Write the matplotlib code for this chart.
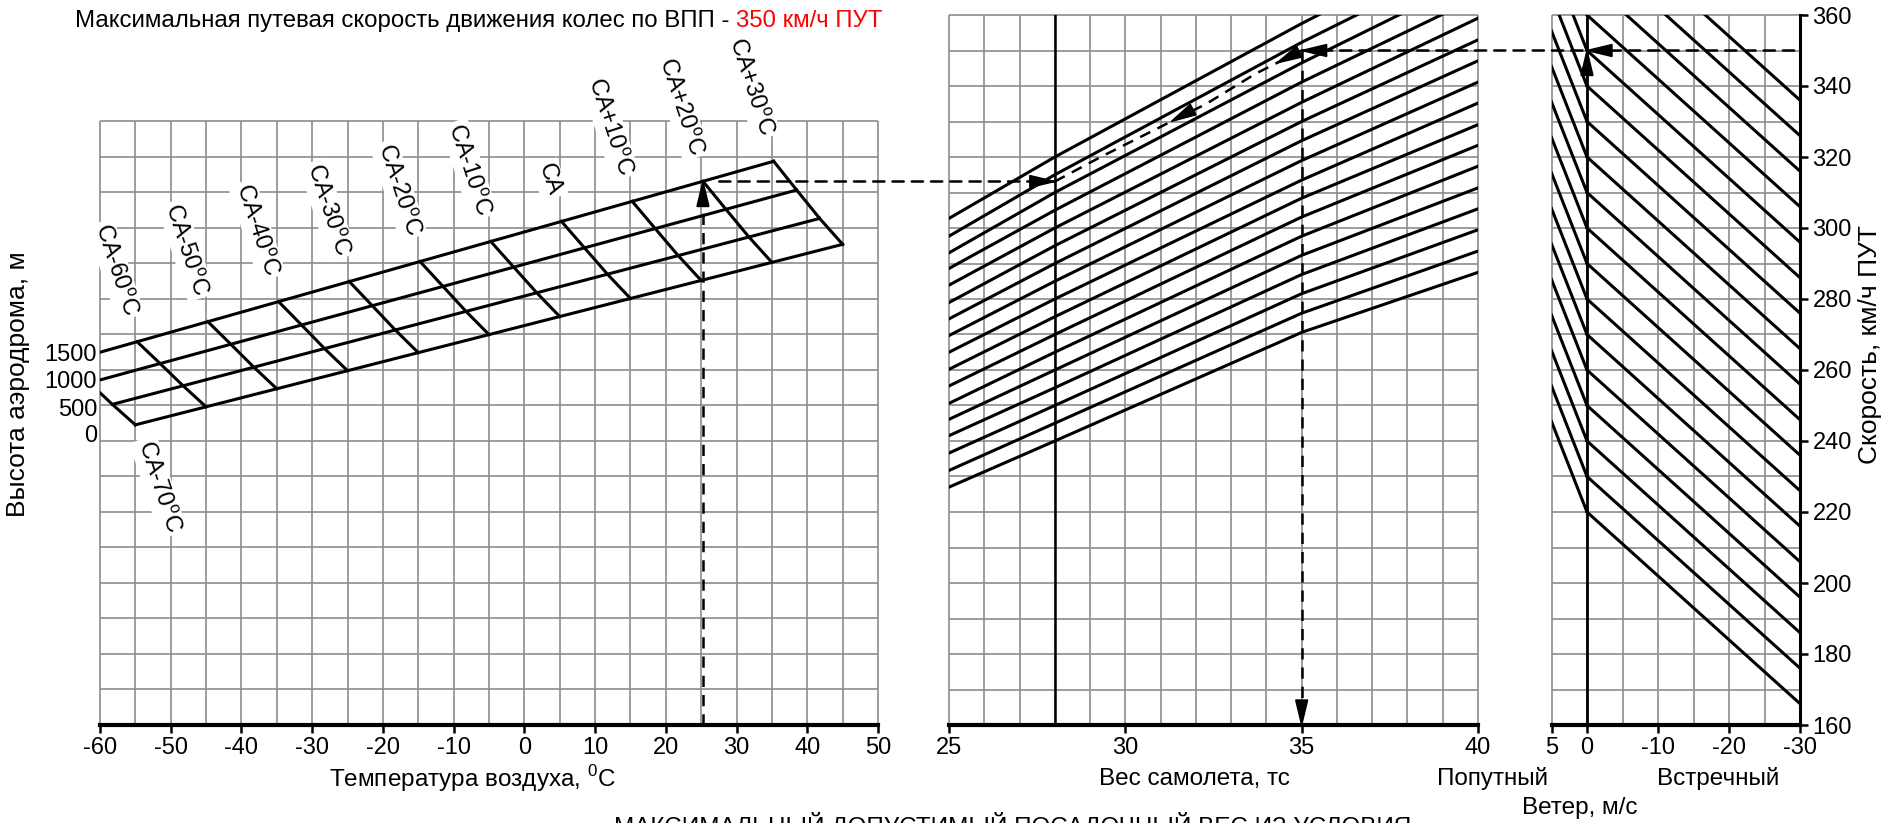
import matplotlib.pyplot as plt
import numpy as np
from matplotlib.patches import ConnectionPatch, Polygon
from matplotlib.transforms import IdentityTransform

plt.rcParams['font.family'] = ['Liberation Sans', 'DejaVu Sans']
plt.rcParams['mathtext.fontset'] = 'custom'
plt.rcParams['mathtext.rm'] = 'Liberation Sans'
plt.rcParams['axes.unicode_minus'] = False
plt.rcParams['font.size'] = 17

# --- altitude / temperature block (left)
altitudes = ['0', '500', '1000', '1500']
isa_temp = [15.0, 11.75, 8.5, 5.25]            # СА temperature for each altitude
alt_level_left = [242.0, 249.4, 257.2, 265.0]  # line level at -60 °C
alt_level_right = [295.4, 302.7, 310.7, 318.8] # line level at the СА+30 edge
deviations = [-70, -60, -50, -40, -30, -20, -10, 0, 10, 20, 30]

# --- landing weight guide curves, level at 25, 28, 35, 40 tc
mass_nodes = [25, 28, 35, 40]
mass_curves = [
    [227.0, 240, 270.6, 287.5],
    [231.7, 245, 276.0, 293.5],
    [236.6, 250, 281.5, 299.5],
    [241.5, 255, 286.9, 305.4],
    [246.1, 260, 292.3, 311.3],
    [250.6, 265, 297.7, 317.4],
    [255.5, 270, 303.1, 323.3],
    [260.2, 275, 308.4, 329.1],
    [265.0, 280, 313.5, 335.2],
    [269.7, 285, 319.0, 341.1],
    [274.4, 290, 324.6, 347.1],
    [279.0, 295, 330.0, 353.0],
    [283.9, 300, 335.4, 359.1],
    [288.6, 305, 341.1, 365.0],
    [293.0, 310, 346.5, 371.0],
    [297.7, 315, 352.3, 377.0],
    [302.7, 320, 357.6, 383.0],
]
ref_mass = 28

# --- wind correction (right)
head_start = [220, 230, 240, 250, 260, 270, 280, 290, 300, 310, 320, 330, 340, 350, 360, 370, 380, 390]
head_end = [166, 176, 186, 196, 206, 216, 226, 236, 246, 256, 266, 276, 286, 296, 306, 316, 326, 336]
tail_end = [220, 230, 240, 250, 260, 270, 280, 290, 300, 310, 320, 330, 340, 350, 360]
tail_start = [245.5, 255.5, 265.5, 275.5, 285.5, 295.5, 305.5, 315.5, 325.5, 335.5, 345.5, 355.5, 365.5, 375.5, 385.5]

# --- worked example
ex_temp = 25.25
ex_level = 313.1
ex_path_mass = [28, 29.3, 30.8, 32.3, 33.7, 35]
ex_path_level = [313.1, 320, 327.5, 335, 343.5, 350]
ex_mass = 35
ex_speed = 350
ex_wind = 0

W, H = 1885, 823
GRID = '#8c8c8c'
DASH = (0, (4.5, 3.2))

fig = plt.figure(figsize=(W / 100, H / 100), dpi=100)


def px_axes(x0, x1, y0, y1):
    a = fig.add_axes([x0 / W, 1 - y1 / H, (x1 - x0) / W, (y1 - y0) / H])
    for s in ['top', 'left', 'right']:
        a.spines[s].set_visible(False)
    a.spines['bottom'].set_linewidth(3)
    a.tick_params(axis='x', direction='out', length=6, width=1.8, pad=3)
    a.tick_params(axis='y', length=0)
    return a


def grid(a, xs, ys):
    x0, x1 = a.get_xlim()
    y0, y1 = a.get_ylim()
    a.vlines(xs, y0, y1, color=GRID, lw=1.2, zorder=0, clip_on=False)
    a.hlines(ys, x0, x1, color=GRID, lw=1.2, zorder=0, clip_on=False)


def head(a, tip, tail, length=25, width=12):
    x, y = a.transData.transform(tip)
    tx, ty = a.transData.transform(tail)
    d = np.array([x - tx, y - ty])
    d /= np.hypot(*d)
    n = np.array([-d[1], d[0]])
    base = np.array([x, y]) - d * length
    pts = [(x, y), base + n * width / 2, base - n * width / 2]
    fig.add_artist(Polygon(pts, closed=True, transform=IdentityTransform(),
                           fc='k', ec='k', lw=1, zorder=10))


ax_t = px_axes(100, 878, 121.5, 725)
ax_t.set_xlim(-60, 50)
ax_t.set_ylim(160, 330)
ax_m = px_axes(949, 1478, 15, 725)
ax_m.set_xlim(25, 40)
ax_m.set_ylim(160, 360)
ax_w = px_axes(1551.5, 1800, 15, 725)
ax_w.set_xlim(5, -30)
ax_w.set_ylim(160, 360)

grid(ax_t, np.arange(-60, 51, 5), np.arange(160, 331, 10))
grid(ax_m, np.arange(25, 41, 1), np.arange(160, 361, 10))
grid(ax_w, np.arange(5, -31, -5), np.arange(160, 361, 10))


# altitude lines and СА deviation lines
def level(h, t):
    t_right = isa_temp[h] + deviations[-1]
    return alt_level_left[h] + (alt_level_right[h] - alt_level_left[h]) * (t + 60) / (t_right + 60)


for h in range(len(altitudes)):
    ts = np.array([isa_temp[h] + deviations[0], isa_temp[h] + deviations[-1]])
    ax_t.plot(ts, level(h, ts), color='k', lw=2.2, zorder=3)

for dev in deviations:
    ts = np.array([t + dev for t in isa_temp])
    ys = [level(h, ts[h]) for h in range(len(ts))]
    ax_t.plot(ts, ys, color='k', lw=2.2, zorder=3)
    label = 'СА' if dev == 0 else 'СА%+d$^{\\rm o}$С' % dev
    box = dict(boxstyle='square,pad=0.12', fc='white', ec='none')
    if dev == deviations[0]:
        ax_t.annotate(label, (ts[0], ys[0]), xytext=(6, -12), textcoords='offset points',
                      rotation=-72, rotation_mode='anchor', ha='left', va='center',
                      bbox=box, annotation_clip=False, zorder=5)
    else:
        ax_t.annotate(label, (ts[-1], ys[-1]), xytext=(-5, 19), textcoords='offset points',
                      rotation=-72, rotation_mode='anchor', ha='right', va='center',
                      bbox=box, annotation_clip=False, zorder=5)

ax_t.set_xticks(np.arange(-60, 51, 10))
ax_t.set_yticks(alt_level_left, altitudes)
ax_t.tick_params(axis='y', pad=2)

# weight guide curves
for c in mass_curves:
    ax_m.plot(mass_nodes, c, color='k', lw=2.2, zorder=3)
ax_m.axvline(ref_mass, color='k', lw=1.8, zorder=3)
ax_m.set_xticks([25, 30, 35, 40])
ax_m.set_yticks([])

# wind correction lines
for s0, s1 in zip(head_start, head_end):
    ax_w.plot([0, -30], [s0, s1], color='k', lw=2.2, zorder=3)
for s0, s1 in zip(tail_start, tail_end):
    ax_w.plot([5, 0], [s0, s1], color='k', lw=2.2, zorder=3)
ax_w.axvline(0, color='k', lw=2, zorder=3)
ax_w.spines['right'].set_visible(True)
ax_w.spines['right'].set_linewidth(2.2)
ax_w.set_xticks([5, 0, -10, -20, -30])
ax_w.yaxis.tick_right()
ax_w.set_yticks(np.arange(160, 361, 20))
ax_w.tick_params(axis='y', direction='out', length=6, width=1.8, pad=3)

# worked example
ax_t.plot([ex_temp, ex_temp], [160, ex_level - 3], color='k', lw=1.8, ls=DASH, zorder=4)
head(ax_t, (ex_temp, ex_level), (ex_temp, 160))
fig.add_artist(ConnectionPatch((ex_temp + 2.3, ex_level), (ref_mass, ex_level), 'data', 'data',
                               axesA=ax_t, axesB=ax_m, color='k', lw=1.8, ls=DASH, zorder=4))
head(ax_m, (ref_mass, ex_level), (25, ex_level))
ax_m.plot(ex_path_mass, ex_path_level, color='k', lw=1.8, ls=DASH, zorder=4)
head(ax_m, (ex_path_mass[2] + 0.5, np.interp(ex_path_mass[2] + 0.5, ex_path_mass, ex_path_level)),
     (ex_path_mass[-1], ex_path_level[-1]))
head(ax_m, (ex_path_mass[-2] + 0.6, np.interp(ex_path_mass[-2] + 0.6, ex_path_mass, ex_path_level)),
     (ex_path_mass[-1], ex_path_level[-1]))
ax_m.plot([ex_mass, ex_mass], [ex_speed, 162], color='k', lw=1.8, ls=DASH, zorder=4)
head(ax_m, (ex_mass, 160), (ex_mass, ex_speed))
fig.add_artist(ConnectionPatch((ex_mass, ex_speed), (-30, ex_speed), 'data', 'data',
                               axesA=ax_m, axesB=ax_w, color='k', lw=1.8, ls=DASH, zorder=4))
head(ax_m, (ex_mass, ex_speed), (40, ex_speed))
head(ax_w, (ex_wind, ex_speed), (-30, ex_speed))
head(ax_w, (ex_wind, ex_speed), (ex_wind, 160))


# texts
def ftext(x, y, s, **kw):
    return fig.text(x / W, 1 - y / H, s, **kw)


t1 = ftext(75, 21, 'Максимальная путевая скорость движения колес по ВПП - ',
           ha='left', va='center', fontsize=17.3)
plt.annotate('350 км/ч ПУТ', xy=(1, 0), xycoords=t1, va='bottom', ha='left',
             color='red', fontsize=17.3)

ftext(473, 779, 'Температура воздуха, $^{\\rm 0}$С', ha='center', va='center', fontsize=17.5)
ftext(1194, 779, 'Вес самолета, тс', ha='center', va='center', fontsize=17.5)
ftext(1492, 779, 'Попутный', ha='center', va='center', fontsize=17.5)
ftext(1718, 779, 'Встречный', ha='center', va='center', fontsize=17.5)
ftext(1580, 808, 'Ветер, м/с', ha='center', va='center', fontsize=17.5)
ftext(1013, 812, 'МАКСИМАЛЬНЫЙ ДОПУСТИМЫЙ ПОСАДОЧНЫЙ ВЕС ИЗ УСЛОВИЯ', ha='center', va='top',
      fontsize=17.5)
ftext(18, 384, 'Высота аэродрома, м', rotation=90, ha='center', va='center', fontsize=19)
ftext(1870, 345, 'Скорость, км/ч ПУТ', rotation=90, ha='center', va='center', fontsize=19)

fig.savefig('out.png', dpi=100)
